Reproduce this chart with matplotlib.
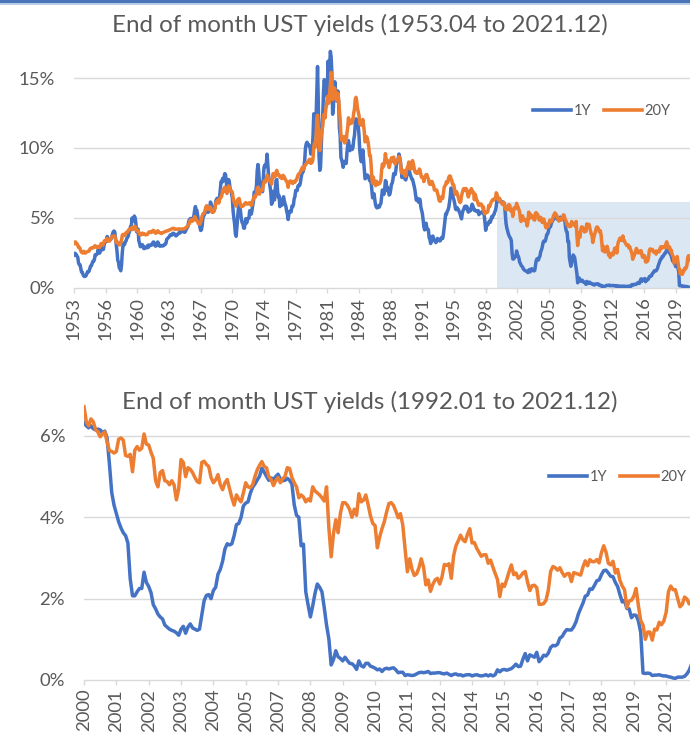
import numpy as np
import matplotlib
matplotlib.use("Agg")
import matplotlib.pyplot as plt
from matplotlib.patches import Rectangle
from matplotlib.lines import Line2D

plt.rcParams['font.family'] = ['Lato', 'DejaVu Sans']

# ---------------- DATA (month-end yields, %) ----------------
START_YEAR, START_MONTH = 1953, 4          # first month: 1953.04
ZOOM_START = (2000, 1)                     # lower chart starts 2000.01
TITLE_TOP = "End of month UST yields (1953.04 to 2021.12)"
TITLE_BOTTOM = "End of month UST yields (1992.01 to 2021.12)"
SERIES = ["1Y", "20Y"]

# 1-year yields
y1_1950s = [2.36, 2.48, 2.45, 2.38, 2.28, 2.20, 1.79, 1.67, 1.66,
            1.41, 1.14, 1.13, 0.96, 0.85, 0.82, 0.84, 0.88, 1.03, 1.17, 1.14, 1.21,
            1.39, 1.57, 1.59, 1.75, 1.90, 1.91, 2.02, 2.37, 2.36, 2.39, 2.48, 2.73,
            2.58, 2.49, 2.61, 2.92, 2.94, 2.74, 2.76, 3.10, 3.35, 3.28, 3.44, 3.68,
            3.37, 3.38, 3.42, 3.49, 3.48, 3.65, 3.81, 4.01, 4.07, 4.01, 3.57, 3.18,
            2.65, 1.99, 1.84, 1.45, 1.37, 1.23, 1.61, 2.50, 3.05, 3.19, 3.10, 3.29,
            3.36, 3.54, 3.61, 3.72, 3.96, 4.07, 4.39, 4.42, 5.00, 4.80, 4.81, 5.14]
y1_1960s = [5.03, 4.66, 4.02, 4.04, 4.21, 3.36, 3.20, 2.95, 3.07, 3.04, 3.08, 2.86,
            2.81, 2.93, 2.88, 2.88, 2.87, 3.06, 2.92, 3.06, 3.06, 3.05, 3.07, 3.18,
            3.28, 3.28, 3.06, 2.99, 3.03, 3.03, 3.29, 3.20, 3.06, 2.98, 3.00, 3.01,
            3.04, 3.01, 3.03, 3.11, 3.12, 3.20, 3.48, 3.53, 3.57, 3.64, 3.74, 3.81,
            3.79, 3.78, 3.91, 3.91, 3.84, 3.83, 3.72, 3.74, 3.84, 3.86, 3.91, 4.02,
            3.94, 4.03, 4.06, 4.04, 4.03, 3.99, 3.98, 4.07, 4.20, 4.30, 4.37, 4.72,
            4.88, 4.94, 4.97, 4.90, 4.93, 4.97, 5.17, 5.54, 5.82, 5.58, 5.54, 5.20,
            4.75, 4.71, 4.35, 4.11, 4.15, 4.48, 5.01, 5.13, 5.24, 5.37, 5.61, 5.71,
            5.43, 5.41, 5.58, 5.71, 6.14, 5.98, 5.65, 5.43, 5.45, 5.57, 5.75, 6.19,
            6.34, 6.41, 6.34, 6.26, 6.42, 7.04, 7.60, 7.54, 7.82, 7.64, 7.89, 8.17]
y1_1970s = [8.10, 7.59, 6.97, 7.06, 7.75, 7.55, 7.10, 6.98, 6.73, 6.43, 5.51, 5.00,
            4.57, 3.89, 3.69, 4.30, 5.04, 5.64, 6.04, 5.80, 5.41, 4.91, 4.67, 4.60,
            4.28, 4.27, 4.67, 4.96, 4.64, 4.93, 4.96, 4.98, 5.52, 5.52, 5.27, 5.52,
            5.89, 6.19, 6.85, 6.85, 6.89, 7.31, 8.39, 8.82, 8.31, 7.40, 7.57, 7.27,
            7.42, 6.88, 7.76, 8.62, 8.78, 8.67, 8.80, 9.56, 8.87, 8.05, 7.66, 7.31,
            6.83, 5.98, 6.11, 6.90, 6.39, 6.29, 7.11, 7.70, 7.75, 6.95, 6.49, 6.60,
            5.81, 5.91, 6.21, 5.92, 6.40, 6.52, 6.20, 6.00, 5.84, 5.50, 5.29, 4.89,
            5.29, 5.47, 5.50, 5.44, 5.84, 5.80, 5.94, 6.37, 6.53, 6.97, 6.95, 6.96,
            7.28, 7.34, 7.31, 7.45, 7.82, 8.09, 8.39, 8.31, 8.64, 9.14, 10.01, 10.30,
            10.41, 10.24, 10.25, 10.12, 10.12, 9.57, 9.64, 9.98, 10.84, 12.44, 12.39, 11.98]
y1_1980s = [12.06, 13.92, 15.82, 13.30, 9.39, 8.40, 8.65, 10.24, 11.52, 12.49, 14.15, 14.88,
            14.08, 14.57, 13.71, 14.32, 16.20, 14.86, 15.72, 16.90, 16.52, 15.38, 12.41, 12.85,
            14.32, 14.73, 13.95, 13.98, 13.34, 14.07, 13.24, 11.43, 10.85, 9.32, 9.16, 8.91,
            8.62, 8.92, 9.04, 8.98, 8.90, 9.66, 10.20, 10.53, 10.16, 9.81, 9.94, 10.11,
            9.90, 10.04, 10.59, 10.90, 11.66, 12.08, 12.03, 11.82, 11.58, 10.90, 9.82, 9.33,
            9.02, 9.29, 9.86, 9.14, 8.46, 7.80, 7.86, 8.05, 8.07, 8.01, 7.88, 7.67,
            7.73, 7.61, 7.03, 6.44, 6.65, 6.73, 6.27, 5.93, 5.77, 5.72, 5.80, 5.87,
            5.78, 5.96, 6.03, 6.50, 7.00, 6.80, 6.68, 7.03, 7.67, 7.59, 6.96, 7.17,
            6.99, 6.64, 6.71, 7.01, 7.40, 7.49, 7.75, 8.17, 8.09, 8.11, 8.48, 8.99,
            9.05, 9.25, 9.57, 9.36, 8.98, 8.44, 7.89, 8.18, 8.22, 7.99, 7.77, 7.72]
y1_1990s = [7.92, 8.11, 8.35, 8.40, 8.32, 8.10, 7.94, 7.78, 7.76, 7.55, 7.31, 7.05,
            6.64, 6.27, 6.40, 6.24, 6.13, 6.36, 6.31, 5.78, 5.57, 5.33, 4.89, 4.38,
            4.15, 4.29, 4.63, 4.30, 4.19, 4.17, 3.60, 3.47, 3.18, 3.30, 3.68, 3.71,
            3.50, 3.39, 3.33, 3.24, 3.36, 3.54, 3.47, 3.44, 3.36, 3.39, 3.58, 3.61,
            3.54, 3.87, 4.32, 4.82, 5.31, 5.27, 5.48, 5.56, 5.76, 6.11, 6.54, 7.14,
            7.05, 6.70, 6.43, 6.27, 6.00, 5.64, 5.59, 5.75, 5.62, 5.59, 5.43, 5.31,
            5.09, 4.94, 5.34, 5.54, 5.64, 5.81, 5.85, 5.67, 5.83, 5.55, 5.42, 5.47,
            5.61, 5.53, 5.80, 5.99, 5.87, 5.69, 5.54, 5.56, 5.52, 5.46, 5.46, 5.53,
            5.24, 5.31, 5.39, 5.38, 5.44, 5.41, 5.36, 5.21, 4.71, 4.12, 4.53, 4.52,
            4.51, 4.70, 4.78, 4.69, 4.85, 5.10, 5.03, 5.20, 5.25, 5.43, 5.55, 5.84]
y1_2000s = [6.33, 6.25, 6.20, 6.25, 6.18, 6.15, 6.17, 6.15, 6.08, 6.12, 5.95, 5.32,
            4.61, 4.30, 4.09, 3.89, 3.74, 3.62, 3.55, 3.37, 2.49, 2.07, 2.07, 2.17,
            2.25, 2.25, 2.65, 2.40, 2.30, 2.15, 1.85, 1.75, 1.62, 1.55, 1.50, 1.35,
            1.30, 1.25, 1.22, 1.20, 1.16, 1.10, 1.25, 1.32, 1.15, 1.30, 1.38, 1.28,
            1.25, 1.22, 1.25, 1.60, 1.95, 2.08, 2.10, 2.00, 2.20, 2.28, 2.60, 2.72,
            2.92, 3.22, 3.35, 3.32, 3.35, 3.55, 3.82, 3.85, 4.00, 4.28, 4.35, 4.38,
            4.59, 4.74, 4.82, 4.92, 5.01, 5.21, 5.11, 5.01, 4.91, 4.97, 4.93, 5.00,
            5.06, 4.94, 4.90, 4.91, 4.96, 4.91, 4.82, 4.31, 4.05, 4.00, 3.30, 3.34,
            2.17, 1.85, 1.55, 1.82, 2.13, 2.36, 2.28, 2.17, 1.78, 1.35, 1.01, 0.37,
            0.50, 0.72, 0.57, 0.53, 0.47, 0.56, 0.48, 0.41, 0.40, 0.35, 0.26, 0.47]
y1_2010s = [0.35, 0.32, 0.41, 0.41, 0.34, 0.32, 0.29, 0.25, 0.27, 0.21, 0.27, 0.29,
            0.27, 0.29, 0.30, 0.25, 0.18, 0.19, 0.19, 0.11, 0.13, 0.12, 0.11, 0.12,
            0.15, 0.18, 0.19, 0.18, 0.19, 0.21, 0.16, 0.17, 0.17, 0.18, 0.18, 0.16,
            0.15, 0.17, 0.14, 0.11, 0.14, 0.15, 0.12, 0.13, 0.10, 0.12, 0.13, 0.13,
            0.10, 0.12, 0.13, 0.11, 0.10, 0.11, 0.13, 0.10, 0.13, 0.10, 0.13, 0.25,
            0.20, 0.25, 0.26, 0.24, 0.26, 0.28, 0.33, 0.39, 0.33, 0.34, 0.51, 0.65,
            0.47, 0.62, 0.59, 0.56, 0.68, 0.45, 0.52, 0.61, 0.59, 0.66, 0.80, 0.85,
            0.84, 0.88, 1.03, 1.07, 1.17, 1.24, 1.23, 1.23, 1.31, 1.43, 1.62, 1.76,
            1.89, 2.06, 2.09, 2.24, 2.23, 2.33, 2.44, 2.46, 2.59, 2.69, 2.70, 2.63,
            2.55, 2.54, 2.40, 2.30, 2.10, 1.92, 1.95, 1.76, 1.75, 1.53, 1.60, 1.59]
y1_2020s = [1.45, 1.17, 0.17, 0.16, 0.17, 0.16, 0.11, 0.12, 0.12, 0.13, 0.11, 0.10,
            0.10, 0.08, 0.07, 0.05, 0.04, 0.07, 0.07, 0.07, 0.09, 0.15, 0.24, 0.39]

# 20-year yields
y20_1950s = [3.19, 3.28, 3.29, 3.16, 3.17, 3.04, 2.90, 2.91, 2.82,
             2.65, 2.55, 2.52, 2.50, 2.62, 2.56, 2.49, 2.54, 2.57, 2.60, 2.62, 2.64,
             2.77, 2.84, 2.85, 2.88, 2.86, 2.88, 2.98, 3.02, 2.98, 2.90, 2.93, 2.97,
             2.93, 2.90, 3.03, 3.18, 3.13, 3.06, 3.16, 3.34, 3.39, 3.34, 3.48, 3.54,
             3.39, 3.35, 3.35, 3.46, 3.56, 3.65, 3.70, 3.71, 3.70, 3.72, 3.53, 3.24,
             3.23, 3.27, 3.21, 3.08, 3.09, 3.23, 3.41, 3.76, 3.83, 3.82, 3.74, 3.84,
             3.95, 3.97, 3.99, 4.11, 4.18, 4.18, 4.18, 4.22, 4.35, 4.18, 4.21, 4.36]
y20_1960s = [4.40, 4.24, 4.08, 4.09, 4.11, 3.98, 3.83, 3.78, 3.80, 3.90, 3.92, 3.87,
             3.88, 3.82, 3.80, 3.81, 3.81, 3.89, 3.97, 4.02, 4.00, 3.96, 3.99, 4.07,
             4.12, 4.09, 3.98, 3.91, 3.93, 3.97, 4.09, 4.04, 3.97, 3.94, 3.92, 3.89,
             3.93, 3.96, 3.98, 4.01, 4.03, 4.06, 4.07, 4.08, 4.11, 4.13, 4.15, 4.19,
             4.21, 4.22, 4.26, 4.27, 4.24, 4.19, 4.19, 4.20, 4.21, 4.22, 4.22, 4.22,
             4.21, 4.21, 4.22, 4.22, 4.22, 4.23, 4.24, 4.30, 4.35, 4.38, 4.46, 4.55,
             4.61, 4.83, 4.87, 4.75, 4.78, 4.81, 4.96, 5.10, 5.04, 4.85, 4.82, 4.73,
             4.59, 4.62, 4.56, 4.71, 4.93, 5.15, 5.28, 5.34, 5.36, 5.58, 5.80, 5.88,
             5.64, 5.62, 5.76, 5.65, 5.78, 5.62, 5.41, 5.41, 5.43, 5.55, 5.70, 6.05,
             6.16, 6.24, 6.28, 6.06, 6.29, 6.45, 6.47, 6.59, 7.00, 6.87, 7.07, 7.20]
y20_1970s = [7.10, 6.85, 6.75, 7.05, 7.30, 7.20, 7.00, 6.95, 6.90, 6.85, 6.45, 6.20,
             6.05, 6.10, 5.85, 6.05, 6.30, 6.35, 6.40, 6.15, 5.95, 5.80, 5.85, 5.85,
             5.90, 6.00, 6.05, 6.10, 6.00, 6.00, 6.00, 6.05, 6.10, 6.05, 5.90, 5.95,
             6.23, 6.37, 6.56, 6.46, 6.59, 6.70, 7.15, 7.20, 6.92, 6.70, 6.88, 6.92,
             7.02, 7.00, 7.35, 7.60, 7.67, 7.58, 7.77, 8.06, 8.01, 7.75, 7.70, 7.61,
             7.55, 7.42, 7.83, 8.17, 8.12, 7.93, 8.04, 8.29, 8.40, 8.08, 8.11, 8.09,
             7.93, 7.94, 7.84, 7.82, 8.05, 8.00, 7.92, 7.80, 7.68, 7.62, 7.50, 7.19,
             7.46, 7.61, 7.65, 7.57, 7.61, 7.46, 7.56, 7.61, 7.55, 7.68, 7.71, 7.87,
             8.06, 8.14, 8.18, 8.25, 8.39, 8.51, 8.63, 8.46, 8.50, 8.72, 8.79, 8.88,
             8.97, 8.97, 9.08, 9.17, 9.20, 8.90, 8.93, 9.00, 9.23, 10.08, 10.36, 10.08]
y20_1980s = [10.60, 12.13, 12.34, 11.40, 10.36, 9.81, 10.24, 11.00, 11.34, 11.59, 12.37, 12.40,
             12.14, 12.80, 13.11, 13.68, 13.60, 13.20, 13.92, 14.52, 15.40, 14.80, 13.44, 13.58,
             14.29, 14.24, 13.76, 13.52, 13.35, 13.92, 13.44, 12.68, 12.06, 10.92, 10.55, 10.54,
             10.66, 10.82, 10.36, 10.42, 10.52, 11.06, 11.45, 12.16, 11.89, 11.72, 11.79, 11.97,
             11.79, 12.08, 12.51, 12.78, 13.49, 13.62, 13.33, 12.82, 12.59, 12.33, 11.73, 11.68,
             11.63, 11.67, 12.04, 11.65, 11.17, 10.44, 10.58, 10.81, 10.68, 10.43, 10.04, 9.47,
             9.46, 8.84, 7.86, 7.48, 7.92, 7.63, 7.54, 7.31, 7.63, 7.50, 7.40, 7.48,
             7.45, 7.55, 7.70, 8.45, 8.85, 8.65, 8.75, 9.05, 9.60, 9.20, 9.00, 9.10,
             8.80, 8.60, 8.85, 9.05, 9.30, 9.05, 9.25, 9.35, 9.05, 8.85, 9.05, 9.10,
             9.10, 9.20, 9.40, 9.20, 8.90, 8.40, 8.20, 8.40, 8.40, 8.20, 8.00, 8.00]
y20_1990s = [8.40, 8.60, 8.70, 9.00, 8.70, 8.50, 8.50, 9.00, 9.10, 8.90, 8.60, 8.30,
             8.30, 8.20, 8.30, 8.20, 8.30, 8.50, 8.40, 8.10, 7.90, 7.90, 7.90, 7.60,
             7.90, 8.00, 8.10, 8.10, 7.90, 7.80, 7.50, 7.40, 7.40, 7.60, 7.60, 7.40,
             7.30, 7.00, 7.00, 7.00, 7.00, 6.80, 6.60, 6.30, 6.20, 6.20, 6.50, 6.50,
             6.40, 6.80, 7.20, 7.30, 7.40, 7.60, 7.50, 7.60, 7.90, 8.00, 8.00, 7.80,
             7.70, 7.40, 7.40, 7.30, 6.80, 6.70, 6.90, 6.80, 6.60, 6.40, 6.20, 6.10,
             6.20, 6.60, 6.80, 7.00, 7.10, 7.00, 7.10, 7.10, 7.00, 6.70, 6.50, 6.70,
             6.90, 6.80, 7.10, 6.90, 6.90, 6.80, 6.30, 6.70, 6.50, 6.30, 6.20, 6.00,
             5.90, 6.00, 6.00, 6.00, 5.90, 5.70, 5.80, 5.40, 5.30, 5.40, 5.40, 5.40,
             5.50, 5.90, 5.80, 5.90, 6.10, 6.20, 6.30, 6.30, 6.30, 6.40, 6.40, 6.80]
y20_2000s = [6.72, 6.35, 6.25, 6.42, 6.35, 6.16, 6.10, 5.98, 6.05, 6.10, 5.85, 5.64,
             5.62, 5.58, 5.62, 5.92, 5.95, 5.90, 5.52, 5.50, 5.55, 5.12, 5.65, 5.74,
             5.65, 5.70, 6.05, 5.80, 5.78, 5.60, 5.45, 4.90, 4.75, 5.10, 5.15, 4.90,
             4.88, 4.80, 4.90, 4.80, 4.43, 4.70, 5.42, 5.35, 5.00, 5.22, 5.18, 5.10,
             4.98, 4.88, 4.85, 5.35, 5.38, 5.30, 5.25, 4.98, 4.85, 4.92, 5.05, 4.80,
             4.68, 4.85, 4.93, 4.70, 4.48, 4.30, 4.55, 4.45, 4.38, 4.60, 4.85, 4.75,
             4.73, 4.80, 5.00, 5.17, 5.28, 5.37, 5.25, 5.22, 5.00, 4.93, 4.78, 4.90,
             4.98, 4.85, 4.95, 5.00, 5.22, 5.20, 4.98, 4.85, 4.75, 4.48, 4.55, 4.50,
             4.38, 4.45, 4.40, 4.75, 4.65, 4.60, 4.55, 4.48, 4.40, 4.75, 3.75, 3.03,
             3.60, 3.94, 3.62, 4.10, 4.36, 4.36, 4.30, 4.19, 4.00, 4.20, 4.05, 4.58]
y20_2010s = [4.38, 4.42, 4.55, 4.31, 4.04, 3.85, 3.80, 3.25, 3.52, 3.72, 3.89, 4.13,
             4.34, 4.36, 4.29, 4.15, 3.99, 4.09, 3.81, 3.22, 2.66, 2.98, 2.72, 2.57,
             2.61, 2.76, 2.98, 2.77, 2.34, 2.46, 2.18, 2.35, 2.46, 2.50, 2.36, 2.54,
             2.84, 2.82, 2.86, 2.50, 3.05, 3.30, 3.42, 3.56, 3.45, 3.40, 3.58, 3.72,
             3.37, 3.38, 3.24, 3.14, 3.04, 3.08, 3.08, 2.87, 2.95, 2.78, 2.62, 2.47,
             2.05, 2.36, 2.30, 2.47, 2.66, 2.83, 2.59, 2.63, 2.50, 2.55, 2.63, 2.67,
             2.41, 2.20, 2.32, 2.33, 2.27, 1.86, 1.86, 1.88, 1.96, 2.21, 2.67, 2.79,
             2.76, 2.70, 2.76, 2.64, 2.55, 2.61, 2.62, 2.42, 2.64, 2.62, 2.60, 2.58,
             2.78, 2.93, 2.81, 2.96, 2.91, 2.91, 2.96, 2.88, 3.13, 3.30, 3.14, 2.87,
             2.83, 2.92, 2.63, 2.72, 2.45, 2.31, 2.22, 1.78, 1.94, 1.96, 2.06, 2.25]
y20_2020s = [1.83, 1.46, 1.35, 1.00, 1.18, 1.18, 0.98, 1.25, 1.23, 1.42, 1.36, 1.45,
             1.66, 2.17, 2.31, 2.22, 2.22, 2.00, 1.80, 1.86, 2.04, 1.99, 1.87, 1.94]

y1 = np.array(y1_1950s + y1_1960s + y1_1970s + y1_1980s + y1_1990s
              + y1_2000s + y1_2010s + y1_2020s)
y20 = np.array(y20_1950s + y20_1960s + y20_1970s + y20_1980s + y20_1990s
               + y20_2000s + y20_2010s + y20_2020s)

n = len(y1)
month_no = np.arange(n) + (START_MONTH - 1)
years = START_YEAR + month_no // 12
zoom_idx = (ZOOM_START[0] - START_YEAR) * 12 + (ZOOM_START[1] - START_MONTH)

# ---------------- STYLE ----------------
W, H = 690, 735
BLUE, ORANGE = '#4472C4', '#ED7D31'
TXT, GRID = '#595959', '#d9d9d9'
SHADE = '#dce7f4'
SHADE_TOP = 6.15
LW = 2.5

fig = plt.figure(figsize=(W / 100, H / 100), dpi=100)
fig.patch.set_facecolor('white')

# header strip
fig.add_artist(Rectangle((0, 1 - 3.5 / H), 1, 3.5 / H, transform=fig.transFigure,
                         facecolor='#4a74b8', edgecolor='none'))
fig.add_artist(Rectangle((0, 1 - 5 / H), 1, 1.5 / H, transform=fig.transFigure,
                         facecolor='#b9cce8', edgecolor='none'))


def box(left, right, top, bottom):
    return [left / W, 1 - bottom / H, (right - left) / W, (bottom - top) / H]


def style(ax, ymax, ystep, tick_idx, tick_lab):
    ax.set_ylim(0, ymax)
    ax.set_yticks(np.arange(0, ymax + 1e-9, ystep))
    ax.set_yticklabels([f"{v:.0f}%" for v in np.arange(0, ymax + 1e-9, ystep)])
    for s in ['left', 'right', 'top']:
        ax.spines[s].set_visible(False)
    ax.spines['bottom'].set_color(GRID)
    ax.spines['bottom'].set_linewidth(1.0)
    ax.spines['bottom'].set_zorder(1)
    for v in np.arange(ystep, ymax + 1e-9, ystep):
        ax.axhline(v, color=GRID, lw=1.0, zorder=1)
    ax.tick_params(axis='y', length=0, pad=13.5, labelsize=13.3, labelcolor=TXT)
    ax.set_xticks(tick_idx)
    ax.set_xticklabels(tick_lab, rotation=90)
    ax.tick_params(axis='x', length=3.8, width=1.0, color=GRID, pad=2.5,
                   labelsize=13.3, labelcolor=TXT)
    ax.set_facecolor('none')


def legend(ax, x, y):
    handles = [Line2D([], [], color=BLUE, lw=2.6), Line2D([], [], color=ORANGE, lw=2.6)]
    ax.legend(handles, SERIES, loc='center left', bbox_to_anchor=(x / W, 1 - y / H),
              bbox_transform=fig.transFigure, ncol=2, frameon=False, fontsize=10.5,
              handlelength=2.6, handletextpad=0.2, columnspacing=0.85,
              borderpad=0, borderaxespad=0, labelcolor=TXT)


# ---------------- TOP CHART ----------------
x_top = np.arange(n)
ax1 = fig.add_axes(box(74, 74 + 0.754 * (n - 1), 288 - 17.5 * 14, 288))
ax1.set_xlim(0, n - 1)
ax1.axvspan(zoom_idx, n - 1, ymin=0, ymax=SHADE_TOP / 17.5, color=SHADE, lw=0, zorder=0.5)
ax1.plot(x_top, y1, color=BLUE, lw=LW, zorder=3, solid_joinstyle='round')
ax1.plot(x_top, y20, color=ORANGE, lw=LW, zorder=3, solid_joinstyle='round')
t1 = np.arange(0, n, 42)
style(ax1, 17.5, 5, t1, [str(years[i]) for i in t1])
legend(ax1, 533, 111)
fig.text(360 / W, 1 - 25 / H, TITLE_TOP, ha='center', va='center',
         fontsize=17.4, color=TXT)

# ---------------- BOTTOM CHART ----------------
b1 = y1[zoom_idx:]
b20 = y20[zoom_idx:]
m = len(b1)
x_bot = np.arange(m)
ax2 = fig.add_axes(box(84, 84 + 2.31 * (m - 1), 680 - 7 * 40.67, 680))
ax2.set_xlim(0, m - 1)
ax2.plot(x_bot, b1, color=BLUE, lw=LW, zorder=3, solid_joinstyle='round')
ax2.plot(x_bot, b20, color=ORANGE, lw=LW, zorder=3, solid_joinstyle='round')
t2 = np.arange(0, m, 14)
style(ax2, 7, 2, t2, [str(years[zoom_idx + i]) for i in t2])
legend(ax2, 549, 477)
fig.text(370 / W, 1 - 402 / H, TITLE_BOTTOM, ha='center', va='center',
         fontsize=17.4, color=TXT)

fig.savefig('out.png', dpi=100)
